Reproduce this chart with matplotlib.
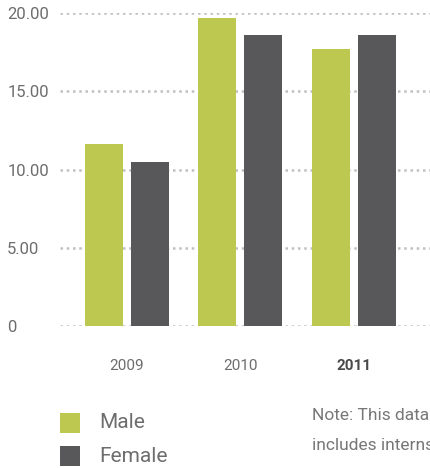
import matplotlib.pyplot as plt
from matplotlib.patches import Rectangle

# Data
years = ['2009', '2010', '2011']
male = [11.6, 19.7, 17.7]
female = [10.5, 18.6, 18.6]
y_ticks = [0, 5, 10, 15, 20]
y_labels = ['0', '5.00', '10.00', '15.00', '20.00']
series = ['Male', 'Female']

GREEN = '#bdc851'
DARK = '#58585a'
GREY_TXT = '#6d6d6d'

plt.rcParams['font.family'] = ['Roboto', 'DejaVu Sans']

W, H = 430, 468
fig = plt.figure(figsize=(W / 100, H / 100), dpi=100)

# Axes placed in pixel terms: left edge at 60px, zero line at 326px, 20 at 13px
ax = fig.add_axes([60 / W, (H - 326) / H, (W - 60) / W, (326 - 13) / H])

x = list(range(len(years)))
offset = 0.2026
width = 0.335
ax.bar([i - offset for i in x], male, width=width, color=GREEN, zorder=2)
ax.bar([i + offset for i in x], female, width=width, color=DARK, zorder=2)

ax.set_xlim(-0.59, 2.67)
ax.set_ylim(0, 20)

# Dotted grid
ax.set_yticks(y_ticks)
ax.yaxis.grid(True, color='#c0c0c0', linestyle=(0, (1, 1.5)), linewidth=1.8, zorder=1)
ax.set_axisbelow(True)

for s in ax.spines.values():
    s.set_visible(False)

# Y tick labels left aligned at the figure edge
ax.set_yticklabels(y_labels, ha='left', fontsize=12, color=GREY_TXT)
ax.yaxis.set_tick_params(length=0, pad=38)

# X tick labels; last year in bold
ax.set_xticks(x)
ax.set_xticklabels(years, fontsize=11, color=GREY_TXT)
ax.xaxis.set_tick_params(length=0, pad=24)
last = ax.get_xticklabels()[-1]
last.set_fontweight('bold')
last.set_color('#4a4a4a')

# Legend drawn by hand: 20px squares with labels
for k, (name, col) in enumerate(zip(series, [GREEN, DARK])):
    top = 413 + k * 33
    fig.patches.append(Rectangle((60 / W, 1 - (top + 20) / H), 20 / W, 20 / H,
                                 facecolor=col, edgecolor='none', transform=fig.transFigure))
    fig.text(99 / W, 1 - (top + 10) / H, name, fontsize=15, color=GREY_TXT,
             va='center', ha='left')

# Note text (cut off at the right edge as in the original)
fig.text(312 / W, 1 - 415 / H, 'Note: This data', fontsize=12.5, color='#777777', va='center', ha='left')
fig.text(312 / W, 1 - 446 / H, 'includes interns', fontsize=12.5, color='#777777', va='center', ha='left')

fig.savefig('out.png', dpi=100, facecolor='white')
